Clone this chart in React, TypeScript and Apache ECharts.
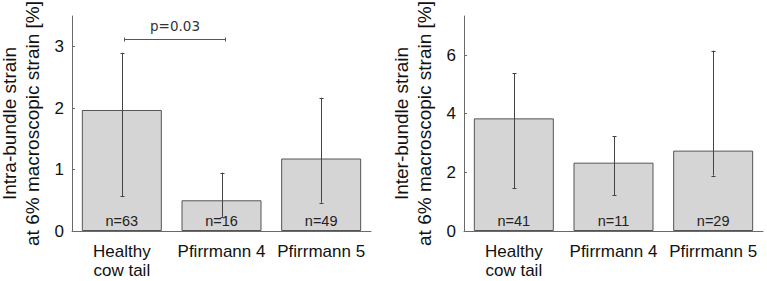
import React, { useEffect, useRef } from "react";
import * as echarts from "echarts";

const categories = ["Healthy\ncow tail", "Pfirrmann 4", "Pfirrmann 5"];

const intraMean = [1.97, 0.5, 1.18];
const intraLow = [0.57, 0.23, 0.46];
const intraHigh = [2.9, 0.95, 2.17];
const intraN = [63, 16, 49];
const intraTicks = [0, 1, 2, 3];
const intraMax = 3.5;

const interMean = [3.84, 2.33, 2.74];
const interLow = [1.45, 1.22, 1.89];
const interHigh = [5.38, 3.23, 6.15];
const interN = [41, 11, 29];
const interTicks = [0, 2, 4, 6];
const interMax = 7.33;

// significance bracket: [fromCategory, toCategory, bracketValue, textValue]
const sigBracket = [[0, 1, 3.13, 3.34]];
const sigText = "p=0.03";

const SANS = "'Liberation Sans', Arial, Helvetica, sans-serif";
const DEJAVU = "'DejaVu Sans', sans-serif";
const AXIS_COLOR = "#6a6a6a";
const ERR_COLOR = "#444444";

const crisp = (v: number) => Math.round(v) + 0.5;

function errorRender(params: any, api: any) {
  const x = api.value(0);
  const lo = api.coord([x, api.value(1)]);
  const hi = api.coord([x, api.value(2)]);
  const cx = crisp(lo[0]);
  const cap = 2;
  const style = { stroke: ERR_COLOR, lineWidth: 1 };
  return {
    type: "group",
    children: [
      { type: "line", shape: { x1: cx, y1: lo[1], x2: cx, y2: hi[1] }, style },
      { type: "line", shape: { x1: cx - cap, y1: crisp(hi[1]), x2: cx + cap, y2: crisp(hi[1]) }, style },
      { type: "line", shape: { x1: cx - cap, y1: crisp(lo[1]), x2: cx + cap, y2: crisp(lo[1]) }, style },
    ],
  };
}

function bracketRender(params: any, api: any) {
  const a = api.value(0);
  const b = api.value(1);
  const p1 = api.coord([a, api.value(2)]);
  const p2 = api.coord([b, api.value(2)]);
  const pt = api.coord([(a + b) / 2, api.value(3)]);
  const y = crisp(p1[1]);
  const x1 = crisp(p1[0]) + 2;
  const x2 = crisp(p2[0]) + 3;
  const style = { stroke: "#555555", lineWidth: 1 };
  return {
    type: "group",
    children: [
      { type: "line", shape: { x1, y1: y, x2, y2: y }, style },
      { type: "line", shape: { x1, y1: y - 2, x2: x1, y2: y + 2 }, style },
      { type: "line", shape: { x1: x2, y1: y - 2, x2, y2: y + 2 }, style },
      {
        type: "text",
        x: (x1 + x2) / 2,
        y: pt[1],
        style: {
          text: sigText,
          fill: "#333333",
          font: `13.5px ${DEJAVU}`,
          align: "center",
          verticalAlign: "middle",
        },
      },
    ],
  };
}

function makeYAxis(gridIndex: number, max: number, ticks: number[], name: string) {
  return {
    type: "value",
    gridIndex,
    min: 0,
    max,
    name,
    nameLocation: "middle",
    nameRotate: 90,
    nameGap: 28,
    nameTextStyle: { fontFamily: SANS, fontSize: 19, lineHeight: 23, color: "#111111" },
    splitLine: { show: false },
    axisLine: { show: true, lineStyle: { color: AXIS_COLOR, width: 1 } },
    axisTick: {
      show: true,
      inside: true,
      length: 3,
      customValues: ticks,
      lineStyle: { color: AXIS_COLOR },
    },
    axisLabel: {
      customValues: ticks,
      fontFamily: SANS,
      fontSize: 17,
      color: "#111111",
      margin: 8,
    },
  };
}

function makeXAxis(gridIndex: number) {
  return {
    type: "category",
    gridIndex,
    data: categories,
    axisLine: { show: true, lineStyle: { color: AXIS_COLOR, width: 1 } },
    axisTick: { show: false },
    axisLabel: {
      fontFamily: SANS,
      fontSize: 17,
      lineHeight: 19,
      color: "#111111",
      margin: 11,
      interval: 0,
    },
  };
}

function barSeries(axisIndex: number, values: number[], ns: number[]) {
  return {
    type: "bar",
    xAxisIndex: axisIndex,
    yAxisIndex: axisIndex,
    data: values,
    barWidth: 80,
    itemStyle: { color: "#d5d5d5", borderColor: "#555555", borderWidth: 1 },
    label: {
      show: true,
      position: "insideBottom",
      distance: 3,
      formatter: (p: any) => `n=${ns[p.dataIndex]}`,
      fontFamily: SANS,
      fontSize: 14.5,
      color: "#222222",
    },
    z: 2,
  };
}

function errSeries(axisIndex: number, lo: number[], hi: number[]) {
  return {
    type: "custom",
    xAxisIndex: axisIndex,
    yAxisIndex: axisIndex,
    data: lo.map((l, i) => [i, l, hi[i]]),
    renderItem: errorRender,
    encode: { x: 0, y: [1, 2] },
    z: 5,
  };
}

export default function App() {
  const ref = useRef<HTMLDivElement>(null);
  useEffect(() => {
    if (!ref.current) return;
    const chart = echarts.init(ref.current, null, { renderer: "svg" });
    chart.setOption({
      animation: false,
      backgroundColor: "#ffffff",
      grid: [
        { left: 72, top: 16, width: 299, height: 215, outerBoundsMode: "none", containLabel: false },
        { left: 464, top: 16, width: 299, height: 215, outerBoundsMode: "none", containLabel: false },
      ],
      xAxis: [makeXAxis(0), makeXAxis(1)],
      yAxis: [
        makeYAxis(0, intraMax, intraTicks, "Intra-bundle strain\nat 6% macroscopic strain [%]"),
        makeYAxis(1, interMax, interTicks, "Inter-bundle strain\nat 6% macroscopic strain [%]"),
      ],
      series: [
        barSeries(0, intraMean, intraN),
        errSeries(0, intraLow, intraHigh),
        barSeries(1, interMean, interN),
        errSeries(1, interLow, interHigh),
        {
          type: "custom",
          xAxisIndex: 0,
          yAxisIndex: 0,
          data: sigBracket,
          renderItem: bracketRender,
          encode: { x: [0, 1], y: [2, 3] },
          clip: false,
          z: 6,
        },
      ],
    });
    return () => chart.dispose();
  }, []);
  return (
    <div
      ref={ref}
      style={{ position: "fixed", left: 0, top: 0, width: 767, height: 281 }}
    />
  );
}
